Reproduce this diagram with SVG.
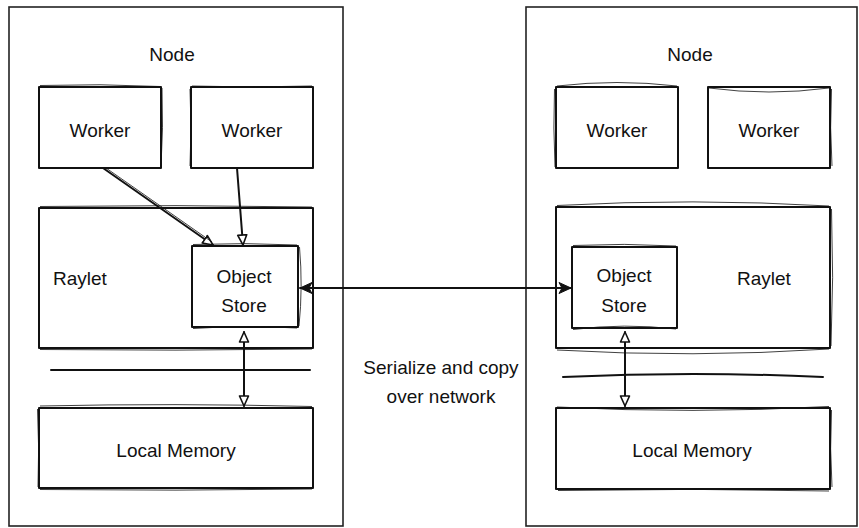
<svg xmlns="http://www.w3.org/2000/svg" width="859" height="528" viewBox="0 0 859 528">
<defs>
<style>
.box{fill:none;stroke:#111;stroke-width:2;stroke-linejoin:round}
.frame{fill:none;stroke:#222;stroke-width:1.6}
.sk{fill:none;stroke:#111;stroke-width:1;opacity:0.8}
.ln{fill:none;stroke:#111;stroke-width:2;stroke-linecap:round}
.t{font-family:"Liberation Sans",Arial,sans-serif;font-size:19px;fill:#111}
.c{text-anchor:middle}
</style>
<marker id="open" viewBox="0 0 12 12" refX="11" refY="6" markerWidth="12" markerHeight="12" markerUnits="userSpaceOnUse" orient="auto-start-reverse">
<path d="M1,1.5 L11,6 L1,10.5 Z" fill="#fff" stroke="#111" stroke-width="1.6" stroke-linejoin="round"/>
</marker>
<marker id="solid" viewBox="0 0 14 14" refX="13" refY="7" markerWidth="14" markerHeight="14" markerUnits="userSpaceOnUse" orient="auto-start-reverse">
<path d="M1,1.5 L13,7 L1,12.5 L4,7 Z" fill="#111" stroke="#111" stroke-width="1" stroke-linejoin="round"/>
</marker>
</defs>
<rect width="859" height="528" fill="#fff"/>

<g id="node-left">
<rect class="frame" x="9" y="7" width="334" height="519"/>
<text class="t c" x="172" y="61">Node</text>
</g>
<g id="worker-l1">
<rect class="box" x="39" y="87" width="122" height="81"/>
<path class="sk" d="M40,85.5 Q100,83.5 160,86.5 M162,88 Q163.5,128 161,167"/>
<text class="t c" x="100" y="137">Worker</text>
</g>
<g id="worker-l2">
<rect class="box" x="191" y="87" width="122" height="81"/>
<path class="sk" d="M192,86 Q252,88 312,86 M190,89 Q192,128 190,166"/>
<text class="t c" x="252" y="137">Worker</text>
</g>
<g id="raylet-l">
<rect class="box" x="39" y="208" width="274" height="140"/>
<path class="sk" d="M40,206.5 Q176,204.5 312,207 M40,349.5 Q176,351 312,349"/>
<text class="t" x="53" y="285">Raylet</text>
</g>
<g id="store-l">
<rect class="box" x="192" y="246" width="106" height="81"/>
<path class="sk" d="M193,244.5 Q245,242.5 297,245 M299.5,247 Q303,287 299,326 M193,328.5 Q245,325 297,328"/>
<text class="t c" x="244" y="283">Object</text>
<text class="t c" x="244" y="312">Store</text>
</g>
<g id="sep-l">
<path class="ln" d="M51,370 L310,370"/>
</g>
<g id="mem-l">
<rect class="box" x="39" y="408" width="274" height="80"/>
<path class="sk" d="M40,406 Q176,403 312,406.5 M37.5,409 Q39.5,448 38,487 M40,489.5 Q176,491 312,489"/>
<text class="t c" x="176" y="457">Local Memory</text>
</g>

<g id="node-right">
<rect class="frame" x="526" y="7" width="331" height="519"/>
<text class="t c" x="690" y="61">Node</text>
</g>
<g id="worker-r1">
<rect class="box" x="556" y="87" width="122" height="81"/>
<path class="sk" d="M557,86 Q617,79 677,86 M554.5,89 Q553,128 555,167"/>
<text class="t c" x="617" y="137">Worker</text>
</g>
<g id="worker-r2">
<rect class="box" x="708" y="87" width="122" height="81"/>
<path class="sk" d="M709,88 Q769,96 829,88 M831.5,89 Q829.5,128 832,166"/>
<text class="t c" x="769" y="137">Worker</text>
</g>
<g id="raylet-r">
<rect class="box" x="556" y="207" width="274" height="141"/>
<path class="sk" d="M557,205.5 Q693,198 829,206 M557,350 Q693,358 829,349 M831.5,209 Q834,277 831,346"/>
<text class="t" x="737" y="285">Raylet</text>
</g>
<g id="store-r">
<rect class="box" x="572" y="247" width="105" height="81"/>
<path class="sk" d="M573,245.5 Q624,243 676,246 M573,329.5 Q624,323 676,329"/>
<text class="t c" x="624" y="282">Object</text>
<text class="t c" x="624" y="312">Store</text>
</g>
<g id="sep-r">
<path class="ln" d="M563,377 Q693,371 823,377"/>
</g>
<g id="mem-r">
<rect class="box" x="556" y="408" width="274" height="81"/>
<path class="sk" d="M557,407 Q693,414 829,406.5 M558,490.5 Q693,488 829,491 M831.5,410 Q829.5,449 832,487"/>
<text class="t c" x="692" y="457">Local Memory</text>
</g>

<g id="label-serialize">
<text class="t c" x="441" y="374">Serialize and copy</text>
<text class="t c" x="441" y="403">over network</text>
</g>

<g id="connectors">
<path class="ln" d="M103,168 L213,245" marker-end="url(#open)"/>
<path class="sk" d="M106,168 L212,242"/>
<path class="ln" d="M237,168 L243,245" marker-end="url(#open)"/>
<path class="ln" d="M244,332 L244,406" marker-start="url(#open)" marker-end="url(#open)"/>
<path class="ln" d="M625,332 L625,406" marker-start="url(#open)" marker-end="url(#open)"/>
<path class="ln" d="M300,288 L571,288" marker-start="url(#solid)" marker-end="url(#solid)"/>
</g>
</svg>
